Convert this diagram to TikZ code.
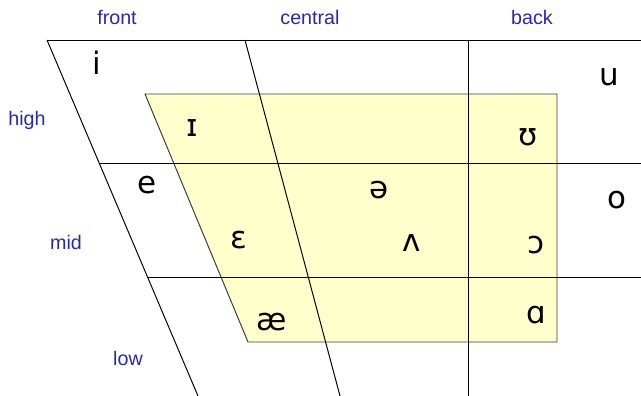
\documentclass[tikz,border=0pt]{standalone}
\usepackage{fontspec}
\setmainfont{Liberation Sans}
\newfontfamily\ipafont{DejaVu Sans}
\usepackage{xcolor}
\definecolor{chartblue}{RGB}{40,40,170}
\definecolor{laxyellow}{RGB}{255,255,204}
\definecolor{laxedge}{RGB}{60,60,60}
\usepackage{tikz}

\begin{document}
\begin{tikzpicture}[x=0.025cm, y=-0.025cm, line width=0.7pt,
  axislabel/.style={font=\fontsize{14}{16}\selectfont, text=chartblue},
  vowel/.style={font=\ipafont\fontsize{22}{24}\selectfont, inner sep=0pt}]
  \useasboundingbox (0,0) rectangle (641,396);
  % lax vowel region
  \filldraw[fill=laxyellow, draw=laxedge] (145,94) -- (557,94) -- (557,342) -- (248,342) -- cycle;
  % chart grid
  \draw (47,40) -- (641,40);
  \draw (47,40) -- (198,396);
  \draw (245,40) -- (340,396);
  \draw (468,40) -- (468,396);
  \draw (99,163) -- (641,163);
  \draw (148,277) -- (641,277);
  % axis labels
  \node[axislabel] (front) at (117,17) {front};
  \node[axislabel] (central) at (310,17) {central};
  \node[axislabel] (back) at (532,17) {back};
  \node[axislabel] (high) at (27,120) {high};
  \node[axislabel] (mid) at (66,242) {mid};
  \node[axislabel] (low) at (128,358) {low};
  % vowels
  \foreach \name/\x/\y/\sym in {i/97/63/i, u/609/77/u, lax-i/192/128/ɪ, lax-u/528/137/ʊ,
      e/147/185/e, schwa/379/190/ə, o/617/200/o, epsilon/239/240/ɛ,
      wedge/412/243/ʌ, open-o/536/245/ɔ, ash/272/322/æ, script-a/536/315/ɑ}
    \node[vowel] (\name) at (\x,\y) {\sym};
\end{tikzpicture}
\end{document}
